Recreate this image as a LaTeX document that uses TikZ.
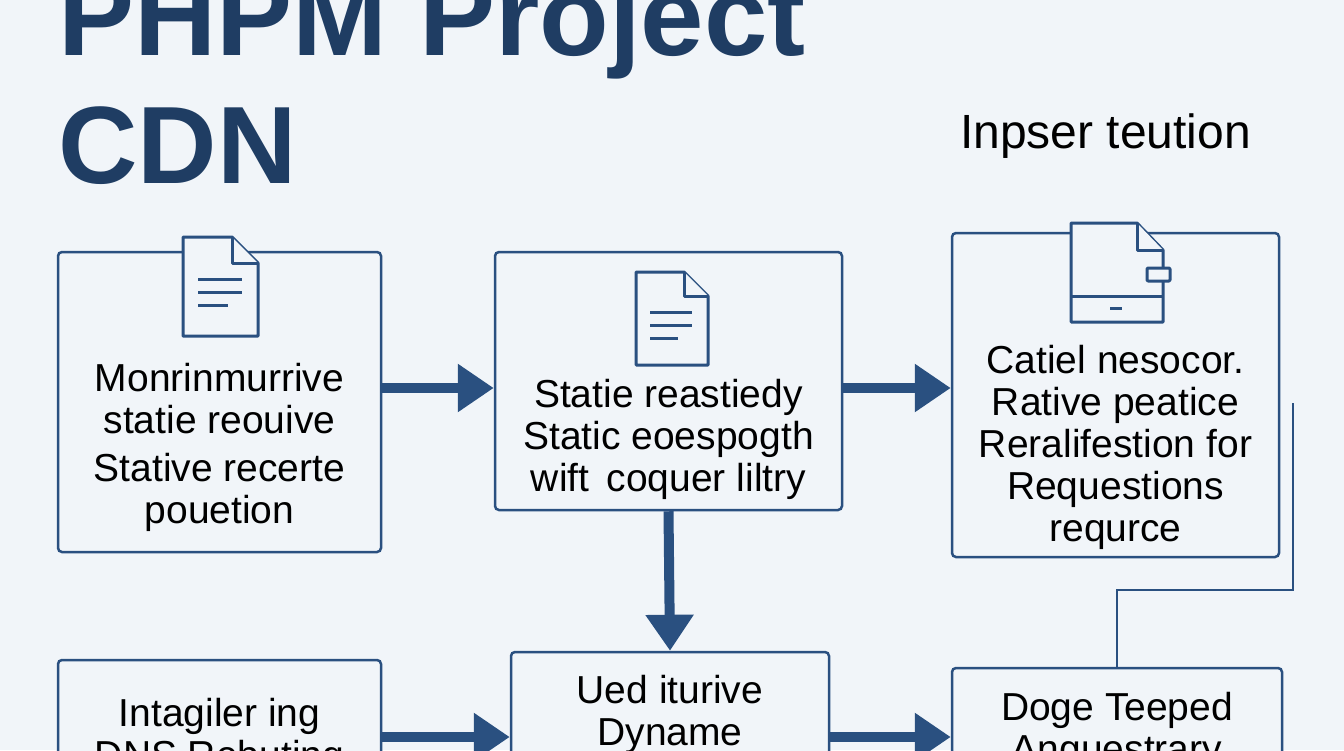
\documentclass[tikz,border=0pt]{standalone}
\usepackage{fontspec}
\setmainfont{Liberation Sans}
\usetikzlibrary{arrows.meta,positioning,calc}
\definecolor{FlowNavy}{HTML}{2A5080}
\definecolor{TitleNavy}{HTML}{1F3D63}
\definecolor{PageBg}{HTML}{F1F5F9}

\tikzset{
  stepbox/.style={draw=FlowNavy,line width=2.5pt,rounded corners=4pt,fill=PageBg,inner sep=0pt},
  steptext/.style={align=center,font=\fontsize{39}{42}\selectfont,text=black},
  flowarrow/.style={draw=FlowNavy,line width=10pt,-{Triangle[length=36pt,width=46pt]}},
  docicon/.style={draw=FlowNavy,line width=3pt,fill=PageBg,line join=round},
}

\begin{document}
\begin{tikzpicture}[x=1pt,y=-1pt]
    \useasboundingbox (0,0) rectangle (1344,750);
    \fill[PageBg] (0,0) rectangle (1344,750);
    \clip (0,0) rectangle (1344,750);

    % titles
    \node[anchor=base west,font=\fontsize{114}{120}\selectfont\bfseries,text=TitleNavy,inner sep=0pt] (title) at (58,55) {PHPM Project};
    \node[anchor=base west,font=\fontsize{110}{120}\selectfont\bfseries,text=TitleNavy,inner sep=0pt] (subtitle) at (58,183) {CDN};
    \node[anchor=base west,font=\fontsize{48}{50}\selectfont,inner sep=0pt] (side) at (960,148) {Inpser teution};

    % boxes
    \node[stepbox,minimum width=323pt,minimum height=300pt] (static) at (219.5,402) {};
    \node[stepbox,minimum width=347pt,minimum height=258pt] (origin) at (668.5,381) {};
    \node[stepbox,minimum width=327pt,minimum height=324pt] (cache) at (1115.5,395) {};
    \node[stepbox,minimum width=323pt,minimum height=140pt] (dns) at (219.5,730) {};
    \node[stepbox,minimum width=318pt,minimum height=160pt] (dynamic) at (670,732) {};
    \node[stepbox,minimum width=330pt,minimum height=130pt] (edge) at (1117,733) {};

    % icons
    \draw[docicon] (183,237) -- (232,237) -- (258,263) -- (258,336) -- (183,336) -- cycle;
    \draw[docicon] (232,237) -- (232,263) -- (258,263);
    \foreach \yy/\xx in {279/242,292/242,305/228}
      \draw[FlowNavy,line width=3pt] (198,\yy) -- (\xx,\yy);
    \draw[docicon] (636,272) -- (684,272) -- (708,296) -- (708,365) -- (636,365) -- cycle;
    \draw[docicon] (684,272) -- (684,296) -- (708,296);
    \foreach \yy/\xx in {312/692,325/692,338/678}
      \draw[FlowNavy,line width=3pt] (650,\yy) -- (\xx,\yy);
    \draw[docicon] (1071,223) -- (1137,223) -- (1163,250) -- (1163,322) -- (1071,322) -- cycle;
    \draw[docicon] (1137,223) -- (1137,250) -- (1163,250);
    \draw[docicon] (1071,296) -- (1163,296);
    \draw[FlowNavy,line width=3pt] (1110,308) -- (1122,308);
    \draw[docicon,rounded corners=1pt] (1147,268) rectangle (1170,281);

    % texts
    \node[steptext] (staticTxt) at (static.center) [yshift=-45pt] {Monrinmurrive\\statie reouive\\[6pt]Stative recerte\\pouetion};
    \node[steptext] (originTxt) at (origin.center) [yshift=-58pt] {Statie reastiedy\\Static eoespogth\\wift\, coquer liltry};
    \node[steptext] (cacheTxt) at (cache.center) [yshift=-52pt] {Catiel nesocor.\\Rative peatice\\Reralifestion for\\Requestions\\requrce};
    \node[steptext,anchor=north] (dnsTxt) at (219.5,695) {Intagiler ing\\DNS Rebuting};
    \node[steptext,anchor=north] (dynamicTxt) at (670,672) {Ued iturive\\Dyname};
    \node[steptext,anchor=north] (edgeTxt) at (1117,689) {Doge Teeped\\Anguestrary};

    % connectors
    \draw[flowarrow] (static.east |- 0,388) -- (origin.west |- 0,388);
    \draw[flowarrow] (origin.east |- 0,388) -- (cache.west |- 0,388);
    \draw[flowarrow] (origin.south) -- (dynamic.north);
    \draw[flowarrow] (dns.east |- 0,737) -- (dynamic.west |- 0,737);
    \draw[flowarrow] (dynamic.east |- 0,737) -- (edge.west |- 0,737);
    \coordinate (feedTop) at (1293,403);
    \draw[FlowNavy,line width=2.5pt] (edge.north) -- (1117,590) -- (1293,590) -- (feedTop);
\end{tikzpicture}
\end{document}
